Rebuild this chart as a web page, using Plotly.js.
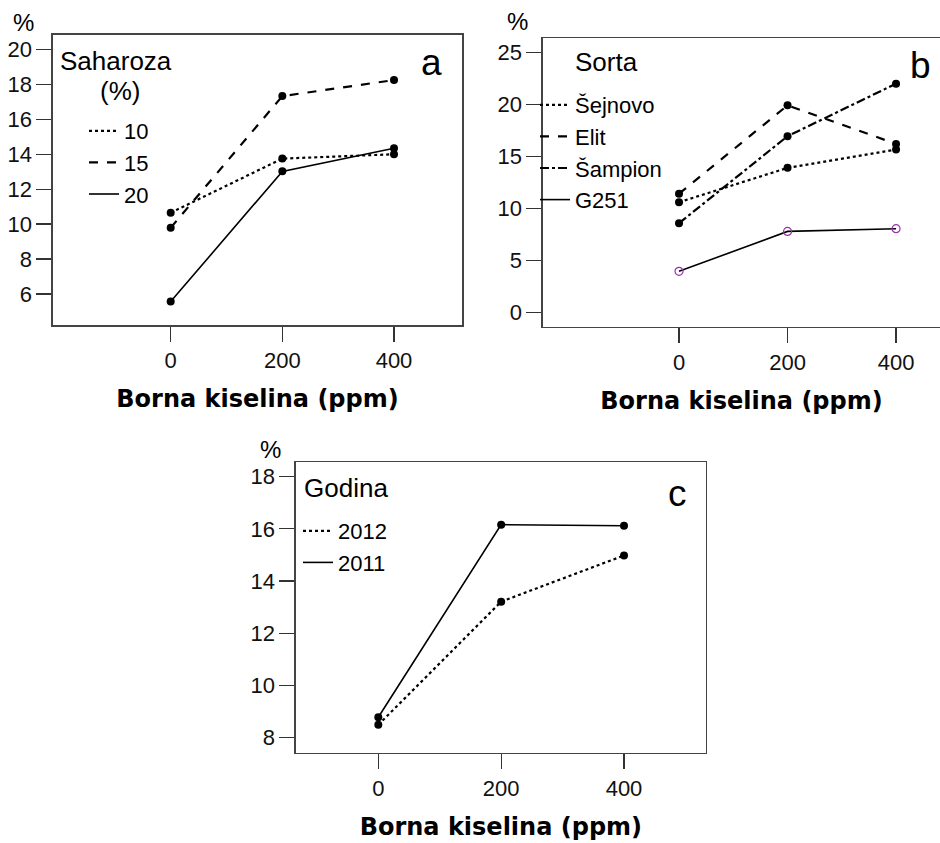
<!DOCTYPE html>
<html>
<head>
<meta charset="utf-8">
<script src="https://cdn.plot.ly/plotly-3.0.1.min.js"></script>
<style>html,body{margin:0;padding:0;background:#fff;}#chart{width:940px;height:843px;}</style>
</head>
<body>
<div id="chart"></div>
<script>
// ---- data ----
const boric = [0, 200, 400];
const xTickVals = [0, 200, 400];
const xTickText = ['0', '200', '400'];

// Panel a: Saharoza (%)
const sugarNames = ['10', '15', '20'];
const sugar10 = [10.65, 13.75, 14.0];
const sugar15 = [9.79, 17.33, 18.25];
const sugar20 = [5.56, 13.02, 14.34];

// Panel b: Sorta
const cultivarNames = ['Šejnovo', 'Elit', 'Šampion', 'G251'];
const sejnovo = [10.6, 13.91, 15.67];
const elit = [11.42, 19.93, 16.22];
const sampion = [8.58, 16.96, 22.02];
const g251 = [3.94, 7.79, 8.05];

// Panel c: Godina
const yearNames = ['2012', '2011'];
const year2012 = [8.49, 13.21, 14.98];
const year2011 = [8.78, 16.16, 16.12];

const xTitle = 'Borna kiselina (ppm)';

// ---- styles ----
const fontFam = 'Liberation Sans, Arial, sans-serif';

function dataTrace(x, y, dash, xa, ya, open) {
  return {
    x: x, y: y, xaxis: xa, yaxis: ya, type: 'scatter', mode: 'lines+markers',
    showlegend: false, hoverinfo: 'skip',
    line: {color: '#000', width: dash === 'solid' ? 1.6 : 2.2, dash: dash},
    marker: open ? {symbol: 'circle-open', size: 8, color: '#9933aa', line: {width: 1.2, color: '#9933aa'}}
                 : {symbol: 'circle', size: 8, color: '#000'}
  };
}
function legTrace(name, dash, legend, xa, ya) {
  return {
    x: [null], y: [null], xaxis: xa, yaxis: ya, type: 'scatter', mode: 'lines',
    name: name, legend: legend, showlegend: true,
    line: {color: '#000', width: dash === 'solid' ? 1.6 : 2.2, dash: dash}
  };
}

const traces = [
  dataTrace(boric, sugar10, 'dot', 'x', 'y'),
  dataTrace(boric, sugar15, 'dash', 'x', 'y'),
  dataTrace(boric, sugar20, 'solid', 'x', 'y'),
  legTrace(sugarNames[0], 'dot', 'legend', 'x', 'y'),
  legTrace(sugarNames[1], 'dash', 'legend', 'x', 'y'),
  legTrace(sugarNames[2], 'solid', 'legend', 'x', 'y'),

  dataTrace(boric, sejnovo, 'dot', 'x2', 'y2'),
  dataTrace(boric, elit, 'dash', 'x2', 'y2'),
  dataTrace(boric, sampion, 'dashdot', 'x2', 'y2'),
  dataTrace(boric, g251, 'solid', 'x2', 'y2', true),
  legTrace(cultivarNames[0], 'dot', 'legend2', 'x2', 'y2'),
  legTrace(cultivarNames[1], 'dash', 'legend2', 'x2', 'y2'),
  legTrace(cultivarNames[2], 'dashdot', 'legend2', 'x2', 'y2'),
  legTrace(cultivarNames[3], 'solid', 'legend2', 'x2', 'y2'),

  dataTrace(boric, year2012, 'dot', 'x3', 'y3'),
  dataTrace(boric, year2011, 'solid', 'x3', 'y3'),
  legTrace(yearNames[0], 'dot', 'legend3', 'x3', 'y3'),
  legTrace(yearNames[1], 'solid', 'legend3', 'x3', 'y3')
];

function xAxis(domain, range, anchor) {
  return {
    domain: domain, range: range, anchor: anchor,
    tickmode: 'array', tickvals: xTickVals, ticktext: xTickText,
    ticks: 'outside', ticklen: 15, tickwidth: 1.3, tickcolor: '#333',
    showline: true, linecolor: '#444', linewidth: 1.6, mirror: true,
    showgrid: false, zeroline: false,
    tickfont: {family: fontFam, size: 22, color: '#111'},
    title: {text: xTitle, standoff: 18, font: {family: 'DejaVu Sans, sans-serif', size: 24, color: '#000', weight: 'bold'}},
    fixedrange: true
  };
}
function yAxis(domain, range, anchor, dtick, mirror) {
  return {
    domain: domain, range: range, anchor: anchor, dtick: dtick, tick0: 0,
    ticks: 'outside', ticklen: 15, tickwidth: 1.3, tickcolor: '#333',
    showline: true, linecolor: '#444', linewidth: 1.6, mirror: mirror,
    showgrid: false, zeroline: false,
    tickfont: {family: fontFam, size: 22, color: '#111'},
    fixedrange: true
  };
}

const legendBase = {
  bgcolor: 'rgba(0,0,0,0)', borderwidth: 0, xanchor: 'left', yanchor: 'top',
  font: {family: fontFam, size: 22, color: '#000'},
  traceorder: 'normal', itemwidth: 30
};

function ann(text, x, y, size, xanchor) {
  return {text: text, x: x, y: y, xref: 'paper', yref: 'paper', showarrow: false,
    xanchor: xanchor || 'center', yanchor: 'middle',
    font: {family: fontFam, size: size, color: '#000'}};
}
const W = 940, H = 843;
const px = v => v / W, py = v => 1 - v / H;

const layout = {
  width: W, height: H,
  margin: {l: 0, r: 0, t: 0, b: 0},
  paper_bgcolor: '#fff', plot_bgcolor: '#fff',
  showlegend: true,
  xaxis: xAxis([px(53), px(462)], [-210.8, 521.8], 'y'),
  yaxis: yAxis([py(325), py(35)], [4.22, 20.83], 'x', 2, true),
  xaxis2: xAxis([px(543), 1], [-250.7, 481], 'y2'),
  yaxis2: yAxis([py(326.5), py(38.3)], [-1.37, 26.39], 'x2', 5, false),
  xaxis3: xAxis([px(296), px(705.7)], [-134, 533], 'y3'),
  yaxis3: yAxis([py(752.5), py(462.3)], [7.43, 18.55], 'x3', 2, true),
  legend: Object.assign({}, legendBase, {x: px(84), y: py(110)}),
  legend2: Object.assign({}, legendBase, {x: px(535), y: py(84)}),
  legend3: Object.assign({}, legendBase, {x: px(298), y: py(510)}),
  annotations: [
    ann('%', px(23), py(22), 24),
    ann('%', px(517), py(21), 24),
    ann('%', px(270), py(450), 24),
    ann('Saharoza', px(58), py(61), 26, 'left'),
    ann('(%)', px(120), py(91), 26),
    ann('Sorta', px(573), py(62), 26, 'left'),
    ann('Godina', px(302), py(488), 26, 'left'),
    ann('a', px(431), py(63), 37),
    ann('b', px(920), py(66), 37),
    ann('c', px(677), py(493), 37)
  ]
};

Plotly.newPlot('chart', traces, layout, {staticPlot: true, displayModeBar: false});
</script>
</body>
</html>
